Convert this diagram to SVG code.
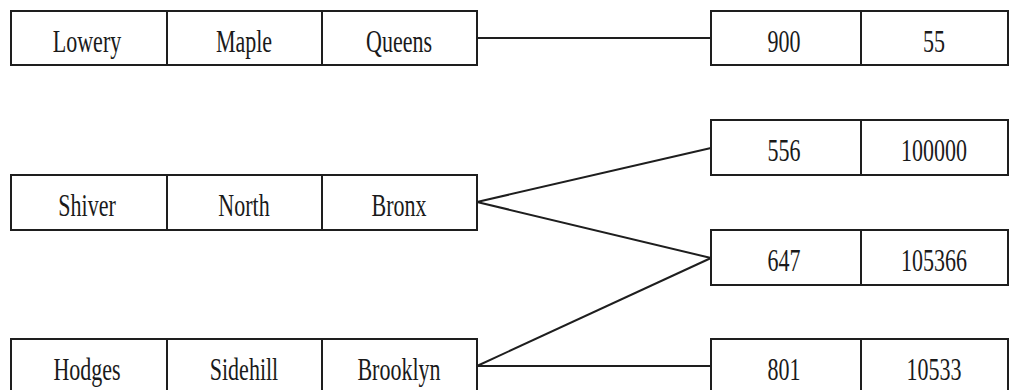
<svg xmlns="http://www.w3.org/2000/svg" width="1010" height="390" viewBox="0 0 1010 390">
  <style>
    .cell { fill: #ffffff; stroke: #1e1e1e; stroke-width: 2; }
    .div { stroke: #1e1e1e; stroke-width: 2; }
    .lbl { font-family: "Liberation Serif", "Times New Roman", serif; font-size: 31px; fill: #1a1a1a; text-anchor: middle; }
    .link { stroke: #1e1e1e; stroke-width: 2; fill: none; }
  </style>
  <rect width="1010" height="390" fill="#ffffff"/>

  <!-- connectors -->
  <g id="connectors">
    <line class="link" x1="477" y1="38" x2="711" y2="38"/>
    <line class="link" x1="477" y1="202" x2="711" y2="148"/>
    <line class="link" x1="477" y1="202" x2="711" y2="258"/>
    <line class="link" x1="477" y1="366" x2="711" y2="258"/>
    <line class="link" x1="477" y1="366" x2="711" y2="366"/>
  </g>

  <!-- left records -->
  <g id="rec-lowery">
    <rect class="cell" x="11" y="11" width="466" height="54"/>
    <line class="div" x1="167" y1="11" x2="167" y2="65"/>
    <line class="div" x1="322" y1="11" x2="322" y2="65"/>
    <text class="lbl" transform="translate(87,52) scale(0.71,1)">Lowery</text>
    <text class="lbl" transform="translate(244,52) scale(0.71,1)">Maple</text>
    <text class="lbl" transform="translate(399,52) scale(0.71,1)">Queens</text>
  </g>
  <g id="rec-shiver">
    <rect class="cell" x="11" y="175" width="466" height="55"/>
    <line class="div" x1="167" y1="175" x2="167" y2="230"/>
    <line class="div" x1="322" y1="175" x2="322" y2="230"/>
    <text class="lbl" transform="translate(87,216) scale(0.71,1)">Shiver</text>
    <text class="lbl" transform="translate(244,216) scale(0.71,1)">North</text>
    <text class="lbl" transform="translate(399,216) scale(0.71,1)">Bronx</text>
  </g>
  <g id="rec-hodges">
    <rect class="cell" x="11" y="339" width="466" height="55"/>
    <line class="div" x1="167" y1="339" x2="167" y2="394"/>
    <line class="div" x1="322" y1="339" x2="322" y2="394"/>
    <text class="lbl" transform="translate(87,380) scale(0.71,1)">Hodges</text>
    <text class="lbl" transform="translate(244,380) scale(0.71,1)">Sidehill</text>
    <text class="lbl" transform="translate(399,380) scale(0.71,1)">Brooklyn</text>
  </g>

  <!-- right records -->
  <g id="rec-900">
    <rect class="cell" x="711" y="11" width="297" height="54"/>
    <line class="div" x1="861" y1="11" x2="861" y2="65"/>
    <text class="lbl" transform="translate(784,52) scale(0.71,1)">900</text>
    <text class="lbl" transform="translate(934,52) scale(0.71,1)">55</text>
  </g>
  <g id="rec-556">
    <rect class="cell" x="711" y="120" width="297" height="55"/>
    <line class="div" x1="861" y1="120" x2="861" y2="175"/>
    <text class="lbl" transform="translate(784,161) scale(0.71,1)">556</text>
    <text class="lbl" transform="translate(934,161) scale(0.71,1)">100000</text>
  </g>
  <g id="rec-647">
    <rect class="cell" x="711" y="230" width="297" height="55"/>
    <line class="div" x1="861" y1="230" x2="861" y2="285"/>
    <text class="lbl" transform="translate(784,271) scale(0.71,1)">647</text>
    <text class="lbl" transform="translate(934,271) scale(0.71,1)">105366</text>
  </g>
  <g id="rec-801">
    <rect class="cell" x="711" y="339" width="297" height="55"/>
    <line class="div" x1="861" y1="339" x2="861" y2="394"/>
    <text class="lbl" transform="translate(784,380) scale(0.71,1)">801</text>
    <text class="lbl" transform="translate(934,380) scale(0.71,1)">10533</text>
  </g>
</svg>
